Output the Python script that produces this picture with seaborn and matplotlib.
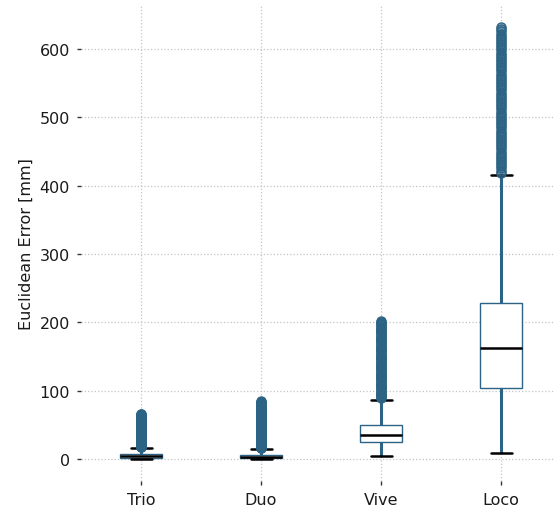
import numpy as np
import pandas as pd
import matplotlib
matplotlib.use("Agg")
import matplotlib.pyplot as plt
import seaborn as sns

systems = ["Trio", "Duo", "Vive", "Loco"]
whisker_low = [0.0, 0.0, 4.0, 9.0]
q1 = [1.5, 1.0, 25.0, 104.0]
median = [4.0, 3.5, 35.0, 163.0]
q3 = [7.5, 6.5, 50.0, 229.0]
whisker_high = [16.4, 14.6, 87.0, 416.0]
max_outlier = [66.0, 85.0, 202.0, 632.0]

line_color = "#2d6384"
text_color = "#1a1a1a"

# build samples whose quartiles / whiskers match the values above
levels = np.linspace(0, 1, 2001)
rows = []
for i, name in enumerate(systems):
    knots = [0.0, 0.25, 0.5, 0.75, 0.965, 1.0]
    vals = [whisker_low[i], q1[i], median[i], q3[i], whisker_high[i], max_outlier[i]]
    sample = np.interp(levels, knots, vals)
    rows.append(pd.DataFrame({"system": name, "error": sample}))
df = pd.concat(rows, ignore_index=True)

# === Plot ===
sns.set_style("white")
plt.rcParams["font.family"] = ["DejaVu Sans"]
plt.rcParams["text.color"] = text_color
plt.rcParams["axes.labelcolor"] = text_color

fig = plt.figure(figsize=(5.55, 5.10), dpi=100)
ax = fig.add_axes([0.146, 0.0557, 0.854, 0.9313])

sns.boxplot(
    data=df, x="system", y="error", order=systems, ax=ax,
    width=0.35, color="white", linecolor=line_color, linewidth=1.0,
    whis=1.5,
    whiskerprops={"color": line_color, "linewidth": 2.2},
    medianprops={"color": "black", "linewidth": 1.8},
    capprops={"color": "black", "linewidth": 1.8},
    flierprops={"marker": "o", "markersize": 6.5, "markeredgecolor": line_color,
                "markerfacecolor": (0.17, 0.39, 0.53, 0.35), "markeredgewidth": 1.0},
)

ax.set_xlim(-0.5, 3.45)
ax.set_ylim(-31.6, 663.6)
ax.set_yticks([0, 100, 200, 300, 400, 500, 600])
ax.set_xlabel("")
ax.set_ylabel("Euclidean Error [mm]", fontsize=11.5)
ax.tick_params(axis="both", labelsize=11.5, length=3, width=1, color="#333333",
               labelcolor=text_color, left=True, bottom=True, pad=5)
ax.grid(True, linestyle=":", color="#c4c4c4", linewidth=0.9)
ax.set_axisbelow(True)
sns.despine(ax=ax, left=True, bottom=True)

fig.savefig("out.png", dpi=100)
